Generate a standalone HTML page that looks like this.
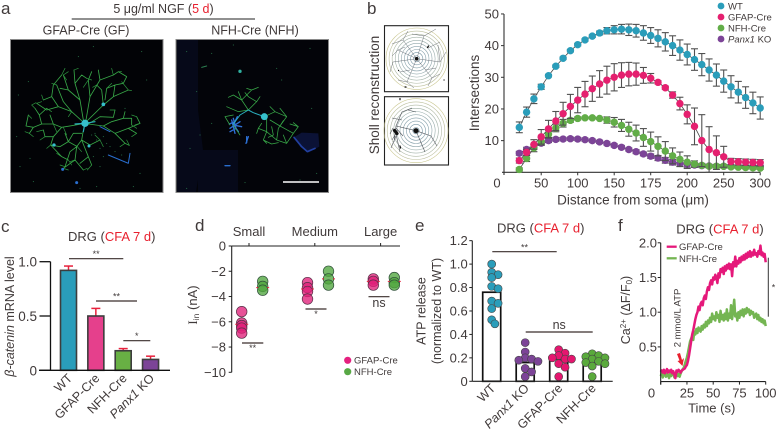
<!DOCTYPE html>
<html lang="en">
<head>
<meta charset="utf-8">
<title>Multi-panel figure</title>
<style>
html,body{margin:0;padding:0;background:#fff;width:777px;height:429px;overflow:hidden}
svg{display:block;font-family:"Liberation Sans",sans-serif;fill:#403a3a}
text{fill:#403a3a}
.red{fill:#e8202e}
</style>
</head>
<body>
<svg id="fig" width="777" height="429" viewBox="0 0 777 429" xmlns="http://www.w3.org/2000/svg">
<rect width="777" height="429" fill="#fff"/>

<!-- Panel letters -->
<text x="1" y="14" font-size="17">a</text>
<text x="367" y="14" font-size="17">b</text>
<text x="1" y="232" font-size="17">c</text>
<text x="195" y="231" font-size="17">d</text>
<text x="415" y="231" font-size="17">e</text>
<text x="618" y="231" font-size="17">f</text>

<!-- Panel a -->
<g>
<text x="163.5" y="13" font-size="12.5" text-anchor="middle">5 μg/ml NGF (<tspan class="red">5 d</tspan>)</text>
<line x1="71.7" x2="255" y1="19" y2="19" stroke="#222" stroke-width="1"/>
<text x="86" y="34.5" font-size="12.5" text-anchor="middle">GFAP-Cre (GF)</text>
<text x="255" y="34.5" font-size="12.5" text-anchor="middle">NFH-Cre (NFH)</text>

<rect x="10.5" y="39.5" width="152.5" height="153" fill="#020306" stroke="#8a8a8a" stroke-width="1"/>
<rect x="176" y="39.5" width="152.5" height="153" fill="#030409" stroke="#8a8a8a" stroke-width="1"/>
<path d="M177,40H198V110L203,150L196,192H177ZM198,150H238V192H198Z" fill="#060919"/>

<g transform="scale(.33333)" fill="none" stroke-linecap="round" stroke-linejoin="round">
<path stroke="#38a848" stroke-width="2.5" d="M255,370L215,377L185,382L160,372L125,372L100,382L78,378M100,382L88,400M125,372L118,345L105,325M118,345L140,325M160,372L150,345M78,378L85,345M185,382L160,410L152,435L185,470L205,480M160,410L135,410L130,390M152,435L180,440L205,425L195,400M205,425L232,440M245,362L215,335L175,320L155,290L160,255L185,225M175,320L140,330L110,310M215,335L190,305L170,255M155,290L130,300M250,360L240,300L225,250L222,210M225,250L245,225L260,235M240,300L205,270L190,225M205,270L180,265M258,360L270,290L265,240L275,215M270,290L300,240L340,225L355,215L380,230L370,250L345,255M300,240L295,210M262,362L310,315L340,290L385,270M340,290L345,255L320,265L315,300M310,315L305,270L290,255M265,372L310,378L345,400L385,385L420,370L410,350M345,400L375,430L388,436M385,385L410,400M310,378L335,365L370,355L395,355L395,375M370,355L375,335M300,350L340,352L345,330M265,372L300,350M252,380L245,420L230,440L225,480L190,505M245,420L265,470L275,495M265,470L240,490M230,440L210,455L195,500M245,420L270,435L300,420M225,480L250,510M205,425L220,400L245,400"/>
<path stroke="#2f9a42" stroke-width="2" d="M200,240L190,225L205,215M222,210L235,205M185,225L195,205M260,235L275,240M265,240L250,262M340,225L335,205M355,215L365,215M385,270L395,272M385,270L365,245M320,265L335,250M290,255L278,262M105,325L95,315L108,308M110,310L125,305M140,325L155,335M130,300L125,285M170,255L155,250M88,400L75,395M88,400L100,410M85,345L95,355M135,410L120,420M130,390L110,395M152,435L140,445M185,470L170,460M205,480L215,495M195,500L180,495M190,505L205,510M225,480L210,485M275,495L262,510M250,510L262,505M300,420L310,440M300,420L285,405M410,350L395,345M420,370L405,375M410,400L395,410M388,436L380,420M375,430L360,440M395,375L410,385M345,330L330,330M215,335L205,350M190,382L200,405M232,440L245,455M160,372L170,395"/>
<path stroke="#2ab0c0" stroke-width="3.4" d="M225,372L255,370L285,365M255,370L250,395"/>
<path stroke="#2a6fd0" stroke-width="3" d="M325,465L385,490L390,460M300,380L330,395"/>
<circle cx="255" cy="370" r="11" fill="#36c0cc"/>
<circle cx="310" cy="313" r="5.5" fill="#36c0cc"/>
<circle cx="162" cy="435" r="5" fill="#36c0cc"/>
<circle cx="267" cy="438" r="4.5" fill="#36c0cc"/>
<circle cx="188" cy="508" r="4.5" fill="#2a6fd0"/>
<circle cx="230" cy="548" r="4.5" fill="#2a6fd0"/>
<path stroke="#2c7f50" stroke-width="3" d="M235,170h.1M280,140h.1M85,245h.1M50,410h.1M90,475h.1M55,285h.1M290,560h.1M425,155h.1M375,325h.1M300,445h.1M320,430h.1M285,400h.1M300,500h.1M400,560h.1M440,240h.1M240,565h.1M60,500h.1M420,520h.1M100,545h.1M290,420h.1M310,410h.1M275,405h.1M330,440h.1M345,455h.1M310,470h.1M280,470h.1M365,465h.1"/>
</g>

<g transform="scale(.33333)" fill="none" stroke-linecap="round" stroke-linejoin="round">
<path stroke="none" fill="#0b1236" d="M885,410L905,398L955,400L958,440L925,458L900,440Z"/>
<path stroke="#2240a0" stroke-width="5" d="M882,412L905,440L922,455L945,445"/>
<path stroke="#2f70d8" stroke-width="4" d="M700,355L708,385L690,395M712,350L700,375L725,380M695,360L705,400M745,410L738,430M720,365L690,385M698,370L715,395M705,365L688,372"/>
<path stroke="#38a848" stroke-width="2.3" d="M745,330L725,300L700,285M725,300L755,270L775,262M725,300L715,275M745,330L770,305L745,290M700,345L675,350L690,375M745,330L715,335L680,320M700,375L720,405M793,350L825,335L860,350L840,325M825,335L810,320M800,355L800,395L790,420L815,432M800,395L830,420L860,430L880,400L895,380L870,372M830,420L835,385L860,350M810,360L840,378L880,400M800,395L775,385L770,400M860,430L850,405M815,380L820,405M755,270L740,265M700,285L685,292M745,290L735,278M770,305L780,290M790,420L800,430M815,432L835,428M895,380L880,368M840,378L850,362M775,385L785,370M820,405L805,412"/>
<path stroke="#2ab0c0" stroke-width="3" d="M793,350L760,338L745,330L720,345L700,372"/>
<circle cx="793" cy="350" r="10.5" fill="#36c0cc"/>
<circle cx="720" cy="214" r="5" fill="#30b0a0"/>
<path stroke="#2a6fd0" stroke-width="4" d="M675,497H690M740,410V428"/>
<path stroke="#2c7f50" stroke-width="3" d="M605,202L620,198M635,160h.1M560,155h.1M590,275h.1M635,370h.1M700,135h.1M930,145h.1M845,240h.1M935,325h.1M570,445h.1M735,548h.1M830,205h.1M900,540h.1M560,565h.1M600,405h.1M950,520h.1"/>
</g>
<line x1="283" x2="319" y1="182" y2="182" stroke="#fff" stroke-width="1.6"/>
</g>

<!-- Panel b: Sholl -->
<g>
<text transform="translate(379,95) rotate(-90)" font-size="13.5" text-anchor="middle">Sholl reconstruction</text>
<rect x="384.5" y="25.7" width="64" height="66" fill="#fff" stroke="#222" stroke-width="1.1"/>
<rect x="384.5" y="96.7" width="64" height="68.3" fill="#fff" stroke="#222" stroke-width="1.1"/>
<g id="shollRings" fill="none"></g>
<path fill="none" stroke="#70757c" stroke-width=".5" d="M416.7,58.7L398,50L392,56M416.7,58.7L403,40L408,31M416.7,58.7L424,36L436,29M416.7,58.7L440,62L446,52M416.7,58.7L432,78L428,86M416.7,58.7L407,82L398,80M416.7,58.7L393,62L390,72M424,36L412,34M440,62L438,45M403,40L392,44M398,50L405,47M432,78L440,74M407,82L414,88M425,70L436,68M410,70L400,72M428,48L440,42"/>
<path fill="none" stroke="#50545a" stroke-width=".6" d="M416,130.7L396,126L394,142M396,126L402,112L412,108M396,136L391,148M396,134L400,152M416,130.7L431,136L437,146M402,120L392,118M416,130.7L425,152M393,128L390,134M398,130L392,140M408,110L416,112M396,128L403,136"/>
<circle cx="416.7" cy="58.7" r="1.8" fill="#111"/>
<circle cx="416" cy="130.7" r="2.6" fill="#111"/>
<path stroke="#111" fill="none" stroke-linecap="round" d="M394.5,130.5l2.5,3" stroke-width="3.2"/>
<path stroke="#111" fill="none" stroke-linecap="round" stroke-width="1.2" d="M427.5,47.5l1,-1.5M398.5,70.5h.1M444,80h.1M400,146l.5,2M400,98.5v1.2M405,87h1"/>
</g>
</svg>

<script>
/* ---------- Panel b data ---------- */
const shollDistance = [20,30,40,50,60,70,80,90,100,110,120,130,140,150,155,160,165,170,175,180,185,190,195,200,210,220,230,240,250,260,270,280,290,300];
const shollTicks = [0,50,100,150,175,200,250,300];
const shollYTicks = [10,20,30,40,50];
const shollWT = [14.2,19,23.2,27,30.5,33.5,36,38.4,40.3,41.8,43,44,44.7,45,45.2,45,44.7,44,43.2,42.3,41.2,40,38.6,37.2,35.6,34,32.3,30.7,28.8,27,25.3,23.6,21.9,20.3];
const shollWTErr = [1.7,1.6,1.5,.8,.4,.4,.4,.4,.4,.4,.4,.6,1,1.3,1.5,1.8,2,2.3,2.5,2.7,2.9,3.1,3.2,3.3,3.4,3.5,3.5,3.5,3.5,3.5,3.4,3.4,3.4,3.5];
const shollGFAP = [3.7,6.3,8.8,11.2,13.7,16.2,18.5,20.8,22.8,24.7,26.4,27.9,29.1,30,30.7,31,31,30.6,29.7,28.4,26.7,24.4,21.7,18.3,14.5,10,7.2,6.2,4.9,3.4,3.3,3.2,3.1,3];
const shollGFAPErr = [.8,1,1.5,2.3,2.7,3,3.6,3.8,4,4,4,4.2,4.4,4.3,3.9,3.7,3.5,2.5,1.5,.5,.5,1,2,3,5.8,8.2,7.2,5.3,3.3,1,1,1,1,1];
const shollNFH = [.9,4.4,7.7,9.8,12,14,15.5,16.4,17,17.2,17.2,17,16.5,15.8,14.8,13.6,12.4,11,9.7,8.2,6.7,5.2,4.1,3.2,2.6,2.2,1.9,1.9,1.9,1.7,1.6,1.5,1.4,1.3];
const shollNFHErr = [.5,1,1.2,1.2,1.2,1.2,1.2,.6,.5,.3,.3,.3,1,1.5,1.9,2.2,2.5,2.8,3,3,3,2.5,2.3,2,1,.6,.5,.5,.5,.4,.4,.4,.4,.4];
const shollPanx = [6,7.2,8,9.2,10,10.4,10.5,10.6,10.5,10.3,10,9.6,9.1,8.5,7.9,7.2,6.5,5.8,5.1,4.5,3.8,3.2,2.8,2.5,2.3,2.1,2,1.9,1.9,1.8,1.8,1.8,1.8,1.8];
const shollPanxErr = [.6,.7,.7,.7,.6,.6,.5,.5,.5,.5,.5,.5,.5,.5,.5,.5,.6,.6,.7,.8,.9,.9,.9,.9,.7,.6,.5,.5,.5,.4,.4,.4,.4,.4];
const shollLegend = ['WT','GFAP-Cre','NFH-Cre','KO'];

/* ---------- Panel c data ---------- */
const mrnaGroups = ['WT','GFAP-Cre','NFH-Cre','Panx1 KO'];
const mrnaValues = [.92,.5,.18,.1];
const mrnaErrors = [.04,.07,.02,.03];
const mrnaTicks = [0,.5,1];
const mrnaTickLabels = ['0','0.5','1.0'];

/* ---------- Panel d data ---------- */
const sizeGroups = ['Small','Medium','Large'];
const currentGFAP = [[-5.2,-6.1,-6.3,-6.5,-6.9],[-2.9,-3.3,-3.6,-4.2],[-2.6,-2.8,-3.1]];
const currentNFH = [[-2.8,-3.2,-3.5],[-2,-2.6,-3.1],[-2.5,-2.9,-3.1]];
const currentGFAPMean = [-6.2,-3.4,-2.8];
const currentNFHMean = [-3.3,-2.6,-2.8];
const currentTicks = [0,-2,-4,-6,-8,-10];

/* ---------- Panel e data ---------- */
const atpGroups = ['WT','Panx1 KO','GFAP-Cre','NFH-Cre'];
const atpMeans = [.76,.16,.19,.16];
const atpPoints = [
  [1,.93,.91,.885,.81,.79,.685,.665,.62,.525,.49],
  [.33,.25,.2,.19,.18,.17,.11,.08,.04],
  [.27,.24,.22,.2,.19,.19,.15,.12,.04],
  [.235,.22,.21,.2,.19,.17,.16,.15,.13,.04]
];
const atpTicks = [0,.2,.4,.6,.8,1,1.2];
const atpTickLabels = ['0','0.2','0.4','0.6','0.8','1.0','1.2'];

/* ---------- Panel f data (one value per second) ---------- */
const calciumGFAP = [.14,.16,.13,.17,.12,.15,.18,.13,.16,.14,.17,.12,.15,.10,.05,.16,.14,.17,.15,.13,.16,
.17,.18,.19,.22,.24,.30,.38,.48,.58,.68,
.74,.82,.90,.96,1.0,1.08,1.03,1.12,1.15,1.10,
1.2,1.24,1.19,1.3,1.36,1.32,1.42,1.46,1.40,1.5,
1.47,1.54,1.5,1.42,1.56,1.5,1.62,1.58,1.64,1.55,
1.66,1.6,1.68,1.63,1.7,1.62,1.69,1.52,1.72,1.66,
1.8,1.66,1.74,1.7,1.78,1.72,1.8,1.75,1.82,1.76,
1.84,1.78,1.86,1.8,1.88,1.8,1.86,1.82,1.9,1.83,
1.85,1.8,1.88,1.84,1.96,1.82,1.86,1.8,1.84,1.72];
const calciumNFH = [.08,.12,.06,.1,.13,.07,.11,.09,.05,.12,.08,.1,.14,.06,.1,.13,.08,.11,.07,.12,.15,
.18,.2,.25,.3,.35,.42,.5,.58,.62,.66,
.6,.72,.68,.76,.7,.78,.74,.72,.8,.75,
.82,.78,.86,.8,.88,.84,.92,.86,.98,.9,
.94,.88,1.0,.92,.96,.86,1.02,.9,.96,.88,
.98,.9,1.04,.88,.98,.92,1.1,.9,1.02,1.18,
.94,.98,.88,1.0,.92,1.02,.96,1.04,.94,1.04,
.98,1.06,1.0,1.04,.96,1.02,.98,1.0,.92,.96,
.98,.9,.96,.88,.92,.86,.9,.84,.88,.8];
const calciumXTicks = [0,25,50,75,100];
const calciumYTicks = [.5,1,1.5,2];
const calciumYLabels = ['0.5','1.0','1.5','2.0'];

const colWT = '#2a9dba', colGFAP = '#e5206f', colNFH = '#62ad48', colPanx = '#7c4497';
const NS = 'http://www.w3.org/2000/svg';
const fig = document.getElementById('fig');

function make(parent, tag, attrs) {
  const el = document.createElementNS(NS, tag);
  for (const k in attrs) el.setAttribute(k, attrs[k]);
  parent.appendChild(el);
  return el;
}
function line(parent, name, x1, y1, x2, y2, stroke, w) {
  const el = make(parent, 'line', {x1, y1, x2, y2, stroke, 'stroke-width': w});
  
  
  return el;
}
function label(parent, name, str, x, y, size, anchor, rot) {
  const el = make(parent, 'text', {'font-size': size, 'text-anchor': anchor || 'middle'});
  if (rot) el.setAttribute('transform', 'translate(' + x + ',' + y + ') rotate(' + rot + ')');
  else { el.setAttribute('x', x); el.setAttribute('y', y); }
  
  
  el.textContent = str;
  return el;
}
function panel(name) {
  const g = make(fig, 'g', {});
  
  
  return g;
}
function dot(parent, name, cx, cy, r, fill, stroke, sw, op) {
  const el = make(parent, 'circle', {cx, cy, r, fill, stroke, 'stroke-width': sw, 'fill-opacity': op});
  
  
  return el;
}
function drtTitle(parent, name, x, y) {
  const el = make(parent, 'text', {x, y, 'font-size': 13, 'text-anchor': 'middle'});
  
  
  el.appendChild(document.createTextNode('DRG ('));
  const t = make(el, 'tspan', {fill: '#e8202e', style: 'fill:#e8202e'});
  t.textContent = 'CFA 7 d';
  el.appendChild(document.createTextNode(')'));
  return el;
}
function sig(parent, name, x1, x2, y, str, size, ty) {
  line(parent, name + '-line', x1, y, x2, y, '#3a2e2c', 1.2);
  label(parent, name + '-label', str, (x1 + x2) / 2, ty, size);
}

/* ---------- Sholl rings ---------- */
(function () {
  const g = document.getElementById('shollRings');
  const ringCols = ['#6f8fa0','#7896a5','#7f9ca8','#88a2ab','#91a8ac','#9aaeac','#a4b4aa','#afb9a4','#bcbf9c','#c9c68e'];
  [[416.7,58.7,3.07],[416,130.7,3.2]].forEach(function (c, s) {
    ringCols.forEach(function (col, i) {
      const el = make(g, 'circle', {cx: c[0], cy: c[1], r: c[2] * (i + 1), stroke: col, 'stroke-width': .6});
      
      
    });
  });
})();

/* ---------- Panel b ---------- */
(function () {
  const g = panel('sholl-chart');
  const xIndex = function (d) {
    if (d <= 150) return (d - 20) / 10;
    if (d <= 200) return 13 + (d - 150) / 5;
    return 23 + (d - 200) / 10;
  };
  const xB = function (d) { return 519.3 + xIndex(d) * 7.3; };
  const yB = function (v) { return 172.3 - v * 3.167; };
  const x0 = 504;
  line(g, 'sholl-y-axis', x0, yB(50), x0, 175, '#333', 1.1);
  line(g, 'sholl-x-axis', x0 - 2, yB(0), xB(300), yB(0), '#333', 1.1);
  label(g, 'sholl-x-tick-label', '0', 497, 187.5, 13);
  shollYTicks.forEach(function (t) {
    line(g, 'sholl-y-tick', x0 - 3, yB(t), x0, yB(t), '#333', 1);
    label(g, 'sholl-y-tick-label', String(t), 499, yB(t) + 4.5, 13, 'end');
  });
  shollTicks.forEach(function (t) {
    if (t === 0) return;
    line(g, 'sholl-x-tick', xB(t), yB(0), xB(t), yB(0) + 3, '#333', 1);
    label(g, 'sholl-x-tick-label', String(t), xB(t), 187.5, 13);
  });
  label(g, 'sholl-y-axis-title', 'Intersections', 479, 93, 13.5, 'middle', -90);
  label(g, 'sholl-x-axis-title', 'Distance from soma (μm)', 633, 204.5, 13.5);
  [[shollPanx, shollPanxErr, colPanx, 'panx1'], [shollNFH, shollNFHErr, colNFH, 'nfh'], [shollGFAP, shollGFAPErr, colGFAP, 'gfap'], [shollWT, shollWTErr, colWT, 'wt']].forEach(function (s) {
    const pts = s[0].map(function (v, i) { return xB(shollDistance[i]) + ',' + yB(v); }).join(' ');
    const pl = make(g, 'polyline', {points: pts, fill: 'none', stroke: '#444', 'stroke-width': .8});
    
    
    s[0].forEach(function (v, i) {
      const x = xB(shollDistance[i]), e = s[1][i];
      const hi = yB(v + e), lo = yB(Math.max(0, v - e));
      line(g, 'sholl-error-bar-' + s[3], x, hi, x, lo, '#505050', 1.1);
      line(g, 'sholl-error-cap-' + s[3], x - 3.5, hi, x + 3.5, hi, '#505050', 1.1);
      line(g, 'sholl-error-cap-' + s[3], x - 3.5, lo, x + 3.5, lo, '#505050', 1.1);
    });
    s[0].forEach(function (v, i) {
      dot(g, 'sholl-point-' + s[3], xB(shollDistance[i]), yB(v), 3.7, s[2], 'none', 0, 1);
    });
  });
  const legCols = [colWT, colGFAP, colNFH, colPanx];
  shollLegend.forEach(function (n, i) {
    const y = 6 + i * 11;
    dot(g, 'sholl-legend-marker', 721, y, 3.4, legCols[i], 'none', 0, 1);
    const t = label(g, 'sholl-legend-entry', '', 728, y + 3.4, 9.5, 'start');
    if (i === 3) {
      const it = make(t, 'tspan', {'font-style': 'italic'});
      it.textContent = 'Panx1';
      t.appendChild(document.createTextNode(' ' + n));
    } else t.textContent = n;
  });
})();

/* ---------- Panel c ---------- */
(function () {
  const g = panel('mrna-chart');
  const xC = function (i) { return 68.5 + i * 27.35; };
  const yC = function (v) { return 370.3 - v * 108.6; };
  const cols = [colWT, '#e5408c', '#68b044', colPanx];
  drtTitle(g, 'mrna-chart-title', 111.7, 241);
  const yl = make(g, 'text', {transform: 'translate(14,316.5) rotate(-90)', 'font-size': 12.5, 'text-anchor': 'middle'});
  
  
  const it = make(yl, 'tspan', {'font-style': 'italic'});
  it.textContent = 'β-catenin';
  yl.appendChild(document.createTextNode(' mRNA level'));
  mrnaValues.forEach(function (v, i) {
    const x = xC(i), e = yC(v + mrnaErrors[i]);
    line(g, 'mrna-error-bar', x, e, x, yC(v), '#e8203c', 1.5);
    line(g, 'mrna-error-cap', x - 4.5, e, x + 4.5, e, '#e8203c', 1.5);
    const r = make(g, 'rect', {x: x - 8, y: yC(v), width: 16, height: yC(0) - yC(v), fill: cols[i], stroke: '#3d3d3d', 'stroke-width': 1.6});
    
    
    const t = label(g, 'mrna-x-tick-label', '', x + 4.5, 379, 12.5, 'end', -45);
    if (i === 3) {
      const p = make(t, 'tspan', {'font-style': 'italic'});
      p.textContent = 'Panx1';
      t.appendChild(document.createTextNode(' KO'));
    } else t.textContent = mrnaGroups[i];
  });
  line(g, 'mrna-y-axis', 50.5, yC(1), 50.5, yC(0) + .6, '#111', 1.3);
  line(g, 'mrna-x-axis', 39, yC(0), 170, yC(0), '#111', 1.3);
  mrnaTicks.forEach(function (t, i) {
    line(g, 'mrna-y-tick', 39.5, yC(t), 50.5, yC(t), '#111', 1.3);
    label(g, 'mrna-y-tick-label', mrnaTickLabels[i], 37, yC(t) + 5, 13.5, 'end');
  });
  sig(g, 'mrna-significance-wt', 69, 123.3, 258.7, '**', 9, 257);
  sig(g, 'mrna-significance-gfap', 96, 137, 301, '**', 9, 299.5);
  sig(g, 'mrna-significance-nfh', 123.3, 150.3, 340.7, '*', 9, 339);
})();

/* ---------- Panel d ---------- */
(function () {
  const g = panel('current-chart');
  const xD = function (i) { return 249 + i * 65.8; };
  const yD = function (v) { return 246 + v * -12.63; };
  line(g, 'current-y-axis', 231.7, yD(0), 231.7, yD(-10), '#222', 1.1);
  line(g, 'current-top-axis', 231.7, yD(0), 400, yD(0), '#222', 1.1);
  currentTicks.forEach(function (t) {
    line(g, 'current-y-tick', 228.7, yD(t), 231.7, yD(t), '#222', 1);
    label(g, 'current-y-tick-label', String(t).replace('-', '−'), 226, yD(t) + 4.5, 13, 'end');
  });
  sizeGroups.forEach(function (n, i) {
    line(g, 'current-x-tick', xD(i), yD(0) - 3, xD(i), yD(0), '#222', 1);
    label(g, 'current-group-label', n, xD(i), 236, 13);
    const x1 = xD(i) - 7.3, x2 = xD(i) + 13.7;
    currentGFAP[i].forEach(function (v) { dot(g, 'current-point-gfap', x1, yD(v), 5.3, '#e0207a', '#5a3048', .7, .78); });
    currentNFH[i].forEach(function (v) { dot(g, 'current-point-nfh', x2, yD(v), 5.3, '#50a53e', '#30503a', .7, .78); });
    line(g, 'current-mean-gfap', x1 - 6.5, yD(currentGFAPMean[i]), x1 + 6.5, yD(currentGFAPMean[i]), '#e8203c', 1).setAttribute('stroke-dasharray', '2 9 2');
    line(g, 'current-mean-nfh', x2 - 6.5, yD(currentNFHMean[i]), x2 + 6.5, yD(currentNFHMean[i]), '#e8203c', 1).setAttribute('stroke-dasharray', '2 9 2');
  });
  sig(g, 'current-significance-small', 242, 263.3, 343, '**', 9, 351);
  sig(g, 'current-significance-medium', 305.5, 326.5, 309, '*', 9, 317);
  sig(g, 'current-significance-large', 368.5, 389.5, 296.7, 'ns', 12.5, 307);
  const yt = make(g, 'text', {transform: 'translate(197,305) rotate(-90)', 'font-size': 13, 'text-anchor': 'middle'});
  
  
  const i1 = make(yt, 'tspan', {'font-family': '"Liberation Serif",serif'});
  i1.textContent = 'I';
  const i2 = make(yt, 'tspan', {'font-size': 8.5, dy: 2});
  i2.textContent = 'in';
  const i3 = make(yt, 'tspan', {dy: -2});
  i3.textContent = ' (nA)';
  dot(g, 'current-legend-marker-gfap', 347.7, 360.3, 3.6, '#e5207f', 'none', 0, 1);
  dot(g, 'current-legend-marker-nfh', 347.7, 371.7, 3.6, '#58a845', 'none', 0, 1);
  label(g, 'current-legend-entry-gfap', 'GFAP-Cre', 354, 363.6, 9.5, 'start');
  label(g, 'current-legend-entry-nfh', 'NFH-Cre', 354, 375, 9.5, 'start');
})();

/* ---------- Panel e ---------- */
(function () {
  const g = panel('atp-chart');
  const xE = function (i) { return 491.7 + i * 33.5; };
  const yE = function (v) { return 381.3 - v * 117.2; };
  const cols = [colWT, colPanx, '#e5166f', '#5aaa3c'];
  drtTitle(g, 'atp-chart-title', 540.7, 232.5);
  label(g, 'atp-y-axis-title-line-1', 'ATP release', 425.5, 311, 12.5, 'middle', -90);
  label(g, 'atp-y-axis-title-line-2', '(normalized to WT)', 441, 311, 12.5, 'middle', -90);
  atpTicks.forEach(function (t, i) {
    line(g, 'atp-y-tick', 469.3, yE(t), 472.3, yE(t), '#222', 1);
    label(g, 'atp-y-tick-label', atpTickLabels[i], 467.7, yE(t) + 4.5, 13, 'end');
  });
  atpMeans.forEach(function (m, i) {
    const x = xE(i);
    const r = make(g, 'rect', {x: x - 9, y: yE(m), width: 18, height: yE(0) - yE(m), fill: '#fff', stroke: '#111', 'stroke-width': 1.7});
    
    
    const placed = [];
    atpPoints[i].forEach(function (v) {
      const y = yE(v);
      let k = 0, off = 0;
      for (k = 0; k < 12; k++) {
        off = (k % 2 ? 1 : -1) * Math.ceil(k / 2) * 3.2;
        if (!placed.some(function (p) { return Math.hypot(p[0] - off, p[1] - y) < 4.8; })) break;
      }
      placed.push([off, y]);
      dot(g, 'atp-point', x + off, y, 4, cols[i], '#444', .6, 1);
    });
    const t = label(g, 'atp-x-tick-label', '', x + 4.5, 389, 12.5, 'end', -45);
    if (i === 1) {
      const p = make(t, 'tspan', {'font-style': 'italic'});
      p.textContent = 'Panx1';
      t.appendChild(document.createTextNode(' KO'));
    } else t.textContent = atpGroups[i];
  });
  line(g, 'atp-y-axis', 472.3, yE(1.2), 472.3, yE(0), '#222', 1.1);
  line(g, 'atp-x-axis', 472.3, yE(0), 612.7, yE(0), '#222', 1.1);
  sig(g, 'atp-significance-wt', 492.3, 556.7, 251.7, '**', 9, 250.5);
  sig(g, 'atp-significance-ns', 525.7, 592.7, 332, 'ns', 12.5, 329);
})();

/* ---------- Panel f ---------- */
(function () {
  const g = panel('calcium-chart');
  const xF = function (t) { return 660.7 + t * 1.05; };
  const yF = function (v) { return 381.6 - v * 69.4; };
  drtTitle(g, 'calcium-chart-title', 720, 233.5);
  [[calciumNFH, '#74b552', 'nfh'], [calciumGFAP, '#e5187a', 'gfap']].forEach(function (s) {
    const pts = s[0].map(function (v, t) { return xF(t) + ',' + yF(v); }).join(' ');
    const pl = make(g, 'polyline', {points: pts, fill: 'none', stroke: s[1], 'stroke-width': 2.5, 'stroke-linejoin': 'round'});
    
    
  });
  line(g, 'calcium-y-axis', xF(0), yF(2), xF(0), yF(0) + 3, '#222', 1.1);
  line(g, 'calcium-x-axis', xF(0), yF(0), xF(100), yF(0), '#222', 1.1);
  calciumYTicks.forEach(function (t, i) {
    line(g, 'calcium-y-tick', xF(0) - 3, yF(t), xF(0), yF(t), '#222', 1);
    label(g, 'calcium-y-tick-label', calciumYLabels[i], 657, yF(t) + 4.5, 13, 'end');
  });
  calciumXTicks.forEach(function (t) {
    line(g, 'calcium-x-tick', xF(t), yF(0), xF(t), yF(0) + 3, '#222', 1);
    label(g, 'calcium-x-tick-label', String(t), t === 0 ? 651.5 : xF(t), 397.5, 13);
  });
  label(g, 'calcium-x-axis-title', 'Time (s)', 711.7, 412.5, 13);
  const yt = make(g, 'text', {transform: 'translate(630,310) rotate(-90)', 'font-size': 12.5, 'text-anchor': 'middle'});
  
  
  const a = make(yt, 'tspan', {});
  a.textContent = 'Ca';
  const b = make(yt, 'tspan', {'font-size': 8, dy: -4});
  b.textContent = '2+';
  const c = make(yt, 'tspan', {dy: 4});
  c.textContent = ' (ΔF/F';
  const d = make(yt, 'tspan', {'font-size': 8, dy: 2});
  d.textContent = '0';
  const e = make(yt, 'tspan', {dy: -2});
  e.textContent = ')';
  line(g, 'calcium-legend-line-gfap', 666.7, 246.7, 676.7, 246.7, '#e5187a', 2.3);
  line(g, 'calcium-legend-line-nfh', 666.7, 258.3, 676.7, 258.3, '#74b552', 2.3);
  label(g, 'calcium-legend-entry-gfap', 'GFAP-Cre', 679, 250.2, 9.5, 'start');
  label(g, 'calcium-legend-entry-nfh', 'NFH-Cre', 679, 261.8, 9.5, 'start');
  label(g, 'atp-stimulus-label', '2 mmol/L ATP', 680.5, 318, 9.5, 'middle', -90);
  const arrow = make(g, 'polygon', {points: '677,354 680,353 682,360 684,358 682.5,366 677.5,361 679.5,360.5', fill: '#e8202e'});
  
  
  line(g, 'calcium-significance-bracket', 768.3, 257.7, 768.3, 316.7, '#333', 1);
  label(g, 'calcium-significance-label', '*', 773.5, 290.5, 9);
})();
</script>
</body>
</html>
